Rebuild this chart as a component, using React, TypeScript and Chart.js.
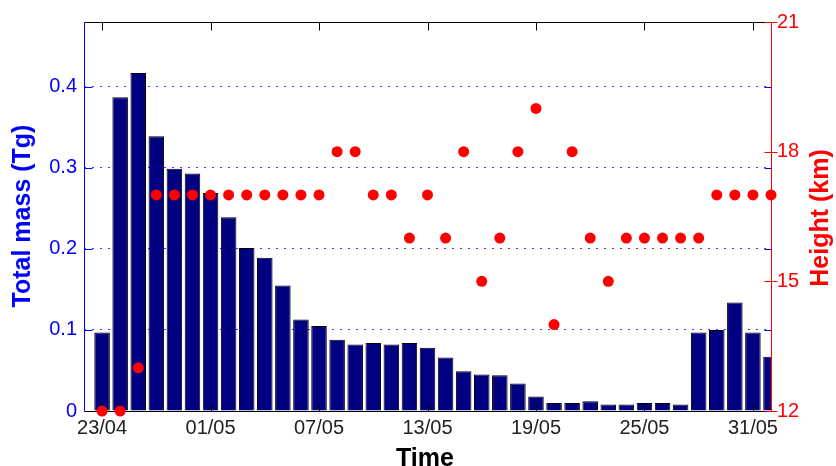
import React, { useEffect, useRef } from 'react';
import { Chart, registerables } from 'chart.js';

Chart.register(...registerables);

// Day offsets that carry a date label on the time axis, and their labels
const tickDays = [0, 6, 12, 18, 24, 30, 36];
const tickLabels = ['23/04', '01/05', '07/05', '13/05', '19/05', '25/05', '31/05'];

// Daily total mass (Tg), one bar per day
const totalMass = [
  0.097, 0.387, 0.417, 0.339, 0.299, 0.293, 0.269, 0.239, 0.201, 0.189,
  0.155, 0.113, 0.105, 0.088, 0.082, 0.084, 0.082, 0.084, 0.078, 0.066,
  0.049, 0.045, 0.044, 0.034, 0.018, 0.010, 0.010, 0.012, 0.008, 0.008,
  0.010, 0.010, 0.008, 0.097, 0.100, 0.134, 0.097, 0.067,
];

// Daily injection height (km)
const heightKm = [
  12, 12, 13, 17, 17, 17, 17, 17, 17, 17,
  17, 17, 17, 18, 18, 17, 17, 16, 17, 16,
  18, 15, 16, 18, 19, 14, 18, 16, 15, 16,
  16, 16, 16, 16, 17, 17, 17, 17,
];

// Axis tick values
const massTicks = [0, 0.1, 0.2, 0.3, 0.4];
const heightTicks = [12, 15, 18, 21];

const FONT = "'Liberation Sans', Arial, Helvetica, sans-serif";
const BLUE = '#0000ff';
const RED = '#ff0000';

const dayIndex = totalMass.map((_, i) => i);

// Draws the box, inward tick marks and the axis titles
const framePlugin = {
  id: 'matlabFrame',
  afterDatasetDraw(chart: any, args: any) {
    if (args.meta.type !== 'bar') return;
    const { ctx, chartArea } = chart;
    const { left, right, top, bottom } = chartArea;
    const xs = chart.scales.x;
    const ys = chart.scales.y;
    const y2 = chart.scales.y2;
    const L = Math.round(left) + 0.5;
    const R = Math.round(right) + 0.5;
    const T = Math.round(top) + 0.5;
    const B = Math.round(bottom) + 0.5;
    ctx.save();
    ctx.lineWidth = 1;
    ctx.setLineDash([]);

    // time ticks, bottom and top, pointing inward
    ctx.strokeStyle = '#000';
    ctx.beginPath();
    tickDays.forEach((d) => {
      const px = Math.round(xs.getPixelForValue(d)) + 0.5;
      ctx.moveTo(px, B);
      ctx.lineTo(px, B - 8);
      ctx.moveTo(px, T);
      ctx.lineTo(px, T + 8);
    });
    ctx.stroke();

    // top and bottom edges
    ctx.beginPath();
    ctx.moveTo(L, T);
    ctx.lineTo(R, T);
    ctx.moveTo(L, B);
    ctx.lineTo(R, B);
    ctx.stroke();

    // mass ticks on both sides
    ctx.strokeStyle = BLUE;
    ctx.beginPath();
    massTicks.forEach((v) => {
      if (v === 0) return;
      const py = Math.round(ys.getPixelForValue(v)) + 0.5;
      ctx.moveTo(L, py);
      ctx.lineTo(L + 8, py);
      ctx.moveTo(R - 7, py);
      ctx.lineTo(R, py);
    });
    ctx.stroke();

    // left axis line
    ctx.beginPath();
    ctx.moveTo(L, T);
    ctx.lineTo(L, B);
    ctx.stroke();

    // right axis line and height ticks
    ctx.strokeStyle = RED;
    ctx.beginPath();
    ctx.moveTo(R, T);
    ctx.lineTo(R, B);
    heightTicks.forEach((v) => {
      const py = Math.round(y2.getPixelForValue(v)) + 0.5;
      ctx.moveTo(R - 7, py);
      ctx.lineTo(R + 6, py);
    });
    ctx.stroke();
    ctx.restore();
  },
  afterDraw(chart: any) {
    const { ctx } = chart;
    ctx.save();
    ctx.font = `bold 25px ${FONT}`;
    ctx.textAlign = 'center';
    ctx.textBaseline = 'alphabetic';

    ctx.fillStyle = BLUE;
    ctx.save();
    ctx.translate(30, 216);
    ctx.rotate(-Math.PI / 2);
    ctx.fillText('Total mass (Tg)', 0, 0);
    ctx.restore();

    ctx.fillStyle = RED;
    ctx.save();
    ctx.translate(828, 218);
    ctx.rotate(-Math.PI / 2);
    ctx.fillText('Height (km)', 0, 0);
    ctx.restore();

    ctx.fillStyle = '#000';
    ctx.fillText('Time', 425, 466);
    ctx.restore();
  },
};

export default function App() {
  const canvasRef = useRef<HTMLCanvasElement>(null);

  useEffect(() => {
    const canvas = canvasRef.current;
    if (!canvas) return;

    const chart = new Chart(canvas, {
      type: 'bar',
      data: {
        datasets: [
          {
            type: 'scatter',
            label: 'Height (km)',
            data: dayIndex.map((d, i) => ({ x: d, y: heightKm[i] })),
            yAxisID: 'y2',
            backgroundColor: RED,
            borderColor: RED,
            borderWidth: 0,
            pointRadius: 5.5,
            pointHoverRadius: 5.5,
            showLine: false,
            clip: false,
            order: 1,
          } as any,
          {
            type: 'bar',
            label: 'Total mass (Tg)',
            data: dayIndex.map((d, i) => ({ x: d, y: totalMass[i] })),
            yAxisID: 'y',
            backgroundColor: '#000080',
            borderColor: '#000000',
            borderWidth: 1,
            barPercentage: 0.86,
            categoryPercentage: 1,
            order: 2,
          } as any,
        ],
      },
      options: {
        responsive: false,
        animation: false,
        devicePixelRatio: 1,
        layout: { padding: { top: 22, left: 0, right: 0, bottom: 0 } },
        plugins: {
          legend: { display: false },
          tooltip: { enabled: false },
        },
        scales: {
          x: {
            type: 'linear',
            min: -1,
            max: 37,
            offset: false,
            grid: { display: false, drawTicks: false, offset: false },
            border: { display: false },
            afterBuildTicks: (s: any) => {
              s.ticks = tickDays.map((v) => ({ value: v }));
            },
            afterFit: (s: any) => {
              s.height = 55;
            },
            ticks: {
              autoSkip: false,
              maxRotation: 0,
              minRotation: 0,
              padding: 5,
              color: '#222222',
              font: { family: FONT, size: 20 },
              callback: (v: any) => {
                const k = tickDays.indexOf(Number(v));
                return k >= 0 ? tickLabels[k] : '';
              },
            },
          },
          y: {
            type: 'linear',
            position: 'left',
            min: 0,
            max: 0.48,
            afterBuildTicks: (s: any) => {
              s.ticks = massTicks.map((v) => ({ value: v }));
            },
            afterFit: (s: any) => {
              s.width = 84;
            },
            grid: {
              drawTicks: false,
              lineWidth: 1,
              color: (c: any) => (c.tick && c.tick.value === 0 ? 'rgba(0,0,0,0)' : '#3a3aff'),
            },
            border: { display: false, dash: [2, 6] },
            ticks: {
              padding: 7,
              color: BLUE,
              font: { family: FONT, size: 20 },
              callback: (v: any) => (Number(v) === 0 ? '0' : Number(v).toFixed(1)),
            },
          },
          y2: {
            type: 'linear',
            position: 'right',
            min: 12,
            max: 21,
            afterBuildTicks: (s: any) => {
              s.ticks = heightTicks.map((v) => ({ value: v }));
            },
            afterFit: (s: any) => {
              s.width = 65;
            },
            grid: { display: false, drawTicks: false },
            border: { display: false },
            ticks: {
              padding: 6,
              color: RED,
              font: { family: FONT, size: 20 },
              callback: (v: any) => String(v),
            },
          },
        },
      } as any,
      plugins: [framePlugin],
    });

    return () => chart.destroy();
  }, []);

  return (
    <div
      style={{
        position: 'fixed',
        left: 0,
        top: 0,
        width: 836,
        height: 466,
        background: '#ffffff',
      }}
    >
      <canvas ref={canvasRef} width={836} height={466} style={{ display: 'block' }} />
    </div>
  );
}
